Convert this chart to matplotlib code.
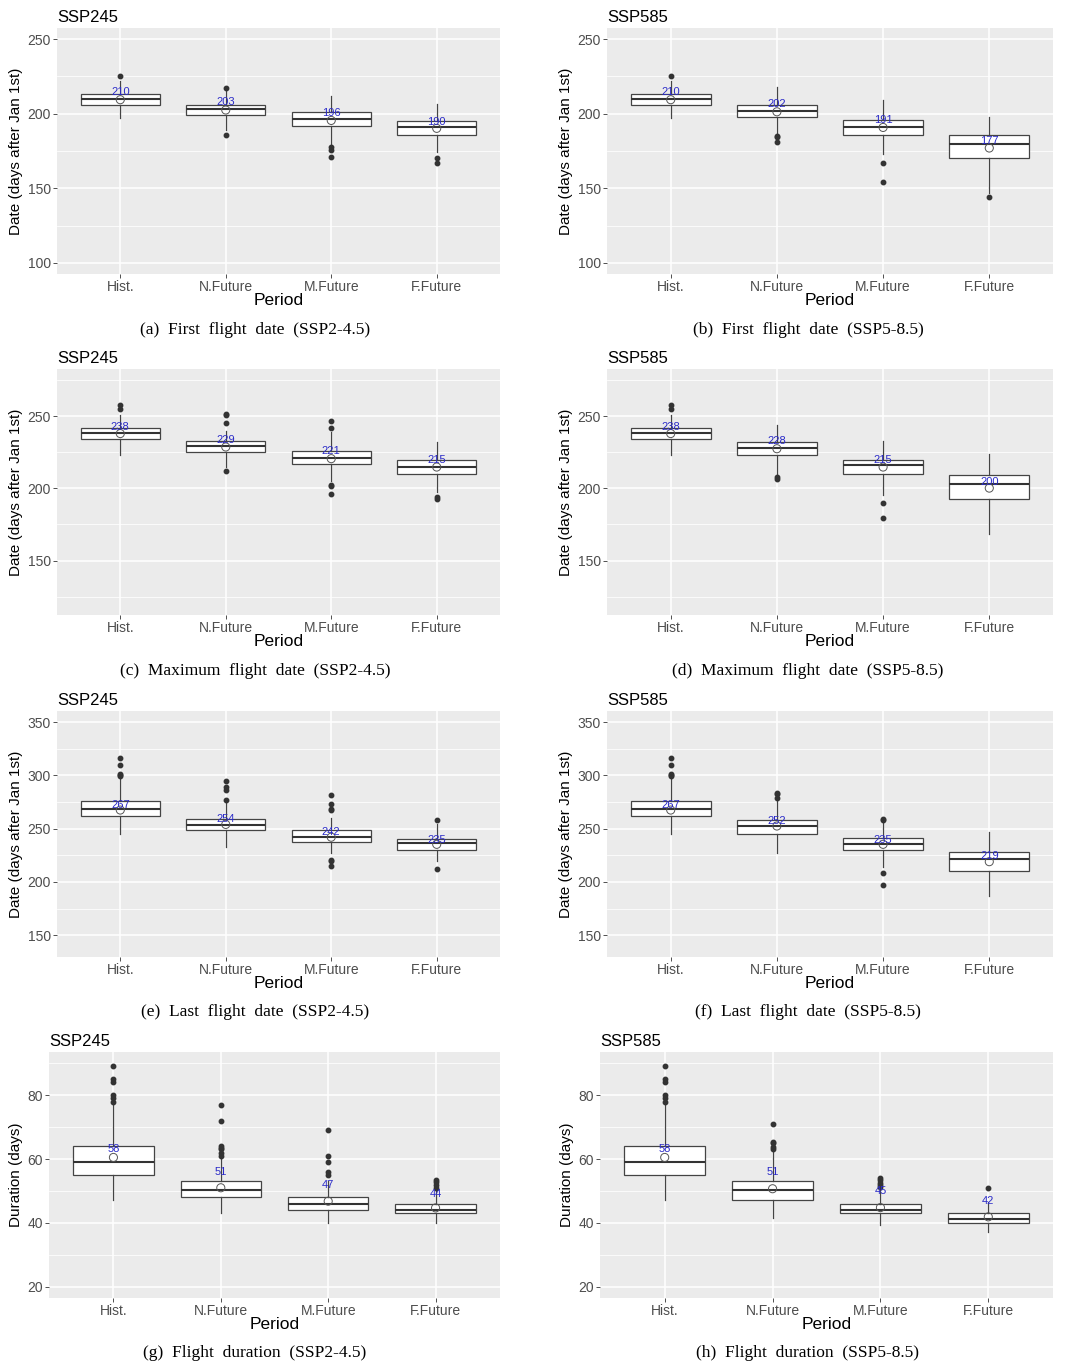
import matplotlib
matplotlib.use("Agg")
import matplotlib.pyplot as plt

plt.rcParams['font.family'] = ['Liberation Sans', 'DejaVu Sans']

periods = ["Hist.", "N.Future", "M.Future", "F.Future"]

# five-number summaries per period: (lower whisker, Q1, median, Q3, upper whisker)
# (a) first flight date, SSP245
a_box = [(197, 206, 210, 213, 222), (189, 199, 203, 206, 215),
         (179, 192, 196.4, 201, 211.8), (174, 186, 190.8, 195, 206.7)]
a_mean = [209.4, 202.5, 195.5, 190.2]
a_out = [[225], [217, 186], [178, 176, 171], [170, 167]]
a_lab = ["210", "203", "196", "190"]
a_laby = [214.5, 207.8, 200.4, 194.6]

# (b) first flight date, SSP585
b_box = [(197, 206, 210, 213, 222), (187, 198, 201.6, 206, 218),
         (173, 186, 191, 196, 209.4), (147, 170, 180, 186, 198)]
b_mean = [209.4, 201.3, 190.8, 177]
b_out = [[225], [185, 184.4, 181], [167, 154], [144]]
b_lab = ["210", "202", "191", "177"]
b_laby = [214.5, 206.5, 195.5, 181.9]

# (c) maximum flight date, SSP245
c_box = [(223.4, 234, 238.2, 242, 251), (214.6, 225.2, 229.2, 232.6, 240),
         (204.9, 216.9, 221, 226.2, 239), (197.2, 210.2, 215, 219.9, 232)]
c_mean = [238, 228.7, 220.6, 214.8]
c_out = [[258, 255.3], [251.9, 251.2, 245, 212], [246.5, 242, 202.5, 201.4, 195.8], [193.8, 192.8]]
c_lab = ["238", "229", "221", "215"]
c_laby = [242.6, 233.8, 225.7, 219.4]

# (d) maximum flight date, SSP585
d_box = [(223.4, 234, 238.2, 242, 251), (209.5, 223.4, 228, 232, 244.2),
         (195.1, 210, 216, 219.9, 232.6), (168.3, 192.4, 203, 209, 224)]
d_mean = [238, 227.5, 214.8, 200.2]
d_out = [[258, 255.3], [207.6, 206.7], [189.8, 179.2], []]
d_lab = ["238", "228", "215", "200"]
d_laby = [242.6, 232.6, 219.4, 204.6]

# (e) last flight date, SSP245
e_box = [(244.7, 262.2, 268.4, 275.9, 298), (232.8, 248.4, 253.4, 259.4, 274.4),
         (227.5, 237.2, 242.5, 248.4, 259.7), (219.7, 229.7, 236.3, 240.3, 254.7)]
e_mean = [267.5, 254, 242, 235.3]
e_out = [[316, 309.4, 301.6, 300, 299], [294.4, 289, 286, 277.2],
         [281.2, 273.4, 268.1, 267.2, 220.6, 219.4, 215.3], [258.1, 212.5]]
e_lab = ["267", "254", "242", "235"]
e_laby = [271.9, 258.75, 246.9, 239.7]

# (f) last flight date, SSP585
f_box = [(244.7, 262.2, 268.4, 275.9, 298), (227.5, 245.3, 252.5, 258.4, 277.5),
         (214, 230.3, 235.6, 241.6, 257.5), (186.6, 210.3, 221.9, 228.1, 246.6)]
f_mean = [267.5, 252.5, 235.3, 219]
f_out = [[316, 309.4, 301.6, 300, 299], [283.8, 282.2, 279], [259, 258.2, 208.4, 197.2], []]
f_lab = ["267", "252", "235", "219"]
f_laby = [271.9, 256.9, 239.7, 224.4]

# (g) flight duration, SSP245
g_box = [(47.2, 55.1, 59.2, 64, 77.1), (43.1, 48.1, 50.3, 53.1, 60.5),
         (40.1, 44.2, 46, 48, 53), (40, 43.1, 44.2, 46, 50)]
g_mean = [60.5, 51, 46.8, 44.7]
g_out = [[89, 85, 84, 80, 79, 78], [77, 72, 64, 63.5, 63, 62, 61],
         [69, 61, 59, 56, 55], [53.4, 52.7, 52, 51]]
g_lab = ["58", "51", "47", "44"]
g_laby = [63, 55.9, 52, 48.9]

# (h) flight duration, SSP585
h_box = [(47.2, 55.1, 59.2, 64, 77.1), (41.4, 47.2, 50.2, 53.1, 62.1),
         (39.2, 43.1, 44.2, 46, 50.4), (37.2, 40.1, 41.1, 43.1, 46.4)]
h_mean = [60.5, 50.7, 44.8, 41.9]
h_out = [[89, 85, 84, 80, 79, 78], [71.1, 65.4, 64.9, 63.9, 63], [54, 53.3, 52.6, 51.9, 51.2], [51]]
h_lab = ["58", "51", "45", "42"]
h_laby = [63, 55.9, 50, 46.9]

scenarios = ["SSP245", "SSP585"]
captions = ["(a)  First  flight  date  (SSP2-4.5)", "(b)  First  flight  date  (SSP5-8.5)",
            "(c)  Maximum  flight  date  (SSP2-4.5)", "(d)  Maximum  flight  date  (SSP5-8.5)",
            "(e)  Last  flight  date  (SSP2-4.5)", "(f)  Last  flight  date  (SSP5-8.5)",
            "(g)  Flight  duration  (SSP2-4.5)", "(h)  Flight  duration  (SSP5-8.5)"]
ylabels = ["Date (days after Jan 1st)"] * 3 + ["Duration (days)"]
ylims = [(100, 250), (120, 275), (140, 350), (20, 90)]
yticks = [[100, 150, 200, 250], [150, 200, 250], [150, 200, 250, 300, 350], [20, 40, 60, 80]]

panels = [(a_box, a_mean, a_out, a_lab, a_laby), (b_box, b_mean, b_out, b_lab, b_laby),
          (c_box, c_mean, c_out, c_lab, c_laby), (d_box, d_mean, d_out, d_lab, d_laby),
          (e_box, e_mean, e_out, e_lab, e_laby), (f_box, f_mean, f_out, f_lab, f_laby),
          (g_box, g_mean, g_out, g_lab, g_laby), (h_box, h_mean, h_out, h_lab, h_laby)]

W, H = 1078, 1370
fig = plt.figure(figsize=(W / 100, H / 100), dpi=100)

row_top = [28, 369, 711, 1052]
cap_y = [330, 671, 1012, 1353]
panel_h = 246

for i, (box, mean, out, lab, laby) in enumerate(panels):
    row, col = divmod(i, 2)
    if row == 3:
        x0, x1 = (49, 500) if col == 0 else (600, 1053)
    else:
        x0, x1 = (57, 500) if col == 0 else (607, 1053)
    ax = fig.add_axes([x0 / W, 1 - (row_top[row] + panel_h) / H, (x1 - x0) / W, panel_h / H])
    ax.set_facecolor("#EBEBEB")
    for s in ax.spines.values():
        s.set_visible(False)

    stats = []
    for k in range(4):
        wl, q1, med, q3, wh = box[k]
        stats.append(dict(whislo=wl, q1=q1, med=med, q3=q3, whishi=wh, fliers=out[k]))
    ax.bxp(stats, positions=range(1, 5), widths=0.75, showcaps=False, patch_artist=True,
           manage_ticks=False,
           boxprops=dict(facecolor="white", edgecolor="#444444", linewidth=0.9),
           medianprops=dict(color="#333333", linewidth=1.5),
           whiskerprops=dict(color="#444444", linewidth=0.9),
           flierprops=dict(marker="o", markersize=3.2, markerfacecolor="#333333",
                           markeredgecolor="#333333"))
    ax.scatter(range(1, 5), mean, s=34, facecolors="none", edgecolors="#555555",
               linewidths=0.7, zorder=4)
    for k in range(4):
        ax.text(k + 1, laby[k], lab[k], color="#2B2BC8", fontsize=8,
                ha="center", va="center", zorder=5)

    lo, hi = ylims[row]
    pad = (hi - lo) * 0.05
    ax.set_ylim(lo - pad, hi + pad)
    ax.set_xlim(0.4, 4.6)
    ax.set_yticks(yticks[row])
    step = yticks[row][1] - yticks[row][0]
    minors = [t + step / 2 for t in [yticks[row][0] - step] + yticks[row]]
    ax.set_yticks([m for m in minors if lo - pad < m < hi + pad], minor=True)
    ax.set_xticks(range(1, 5))
    ax.set_xticklabels(periods)
    ax.grid(True, which="major", color="white", linewidth=1.1)
    ax.grid(True, which="minor", axis="y", color="white", linewidth=0.55)
    ax.set_axisbelow(True)
    ax.tick_params(axis="both", which="major", length=2.8, width=0.6, color="#333333",
                   labelsize=10, labelcolor="#4D4D4D", pad=1.5)
    ax.tick_params(axis="both", which="minor", length=0)

    ax.set_title(scenarios[col], loc="left", fontsize=12, pad=4)
    ax.set_xlabel("Period", fontsize=12.5, labelpad=-1)
    ax.set_ylabel(ylabels[row], fontsize=11, labelpad=3)

    cx = 255 if col == 0 else 808
    fig.text(cx / W, 1 - cap_y[row] / H, captions[i], family="Liberation Serif",
             fontsize=12.5, ha="center", va="center")

fig.savefig("out.png", dpi=100)
